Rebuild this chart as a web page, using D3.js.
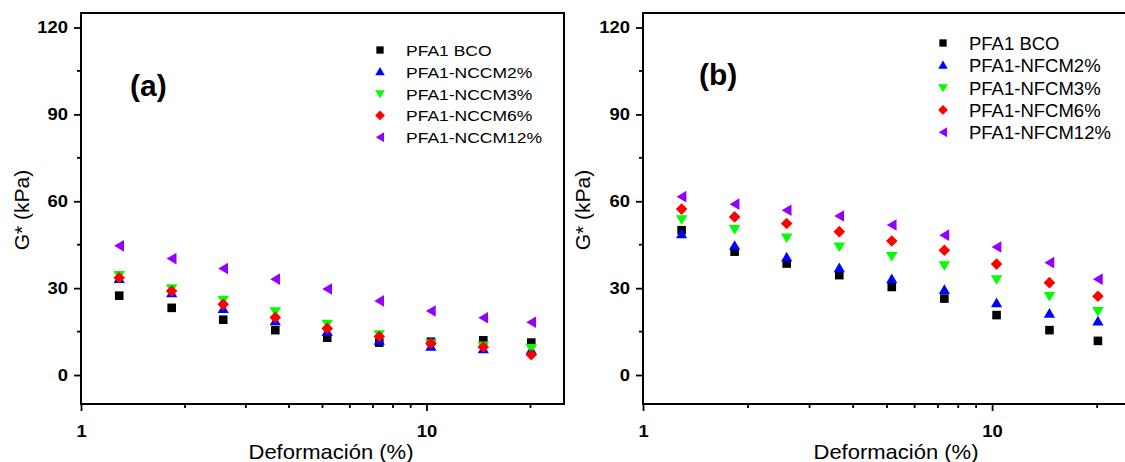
<!DOCTYPE html>
<html>
<head>
<meta charset="utf-8">
<script src="https://cdn.jsdelivr.net/npm/d3@7"></script>
<style>
  body { margin: 0; background: #fff; }
  svg { display: block; }
  text { font-family: "Liberation Sans", Arial, sans-serif; }
</style>
</head>
<body>
<svg id="chart" width="1125" height="462"></svg>
<script>
// Strain amplitude (%) of each sweep point
const strain = [1.29, 1.83, 2.58, 3.65, 5.16, 7.3, 10.3, 14.6, 20.1];

// Axis ticks
const xTicks = [1, 10];
const xMinorTicks = [2, 3, 4, 5, 6, 7, 8, 9, 20];
const yTicks = [0, 30, 60, 90, 120];
const yMinorTicks = [15, 45, 75, 105];

// Panel (a): nanocellulose crystals, G* (kPa)
const labelsA = ["PFA1 BCO", "PFA1-NCCM2%", "PFA1-NCCM3%", "PFA1-NCCM6%", "PFA1-NCCM12%"];
const bcoA   = [27.4, 23.2, 19.1, 15.5, 12.9, 11.2, 11.5, 12.0, 11.2];
const nccm2  = [33.2, 28.2, 22.8, 18.6, 14.9, 11.8,  9.8,  8.9,  8.6];
const nccm3  = [34.5, 30.0, 26.0, 22.0, 17.7, 14.1, 11.0, 10.2,  9.3];
const nccm6  = [33.6, 29.0, 24.4, 19.9, 16.1, 13.3, 11.0,  9.7,  7.0];
const nccm12 = [44.6, 40.2, 36.8, 33.1, 29.7, 25.6, 22.1, 19.8, 18.2];

// Panel (b): nanocellulose fibres, G* (kPa)
const labelsB = ["PFA1 BCO", "PFA1-NFCM2%", "PFA1-NFCM3%", "PFA1-NFCM6%", "PFA1-NFCM12%"];
const bcoB   = [50.0, 42.6, 38.5, 34.5, 30.4, 26.4, 20.7, 15.5, 11.8];
const nfcm2  = [48.6, 44.6, 40.6, 36.9, 33.1, 29.4, 24.8, 21.2, 18.5];
const nfcm3  = [53.8, 50.4, 47.5, 44.4, 41.1, 37.9, 33.1, 27.3, 22.1];
const nfcm6  = [57.3, 54.6, 52.3, 49.5, 46.3, 43.1, 38.3, 31.9, 27.2];
const nfcm12 = [61.6, 59.0, 56.9, 54.9, 51.8, 48.3, 44.2, 38.8, 33.1];

const colors = ["#000000", "#0000ff", "#00ff00", "#ff0000", "#9400ff"];
const shapes = [
  "M-4.3,-4.3H4.3V4.3H-4.3Z",        // square
  "M0,-5.6L5.6,4L-5.6,4Z",            // triangle up
  "M0,5.6L5.8,-4L-5.8,-4Z",           // triangle down
  "M0,-5.8L5.8,0L0,5.8L-5.8,0Z",      // diamond
  "M-5,0L4.8,-5.8L4.8,5.8Z"           // triangle left
];

const svg = d3.select("#chart");

function drawPanel(cfg) {
  const x = d3.scaleLog().domain([1, 25]).range([cfg.left, cfg.right]);
  const y = d3.scaleLinear().domain([-10, 125]).range([404, 13]);
  const g = svg.append("g");

  // frame
  g.append("rect")
    .attr("x", cfg.left).attr("y", 13)
    .attr("width", cfg.right - cfg.left).attr("height", 404 - 13)
    .attr("fill", "none").attr("stroke", "#000").attr("stroke-width", 2);

  // y axis
  const ya = g.append("g")
    .attr("transform", `translate(${cfg.left},0)`)
    .call(d3.axisLeft(y).tickValues(yTicks).tickSize(7).tickPadding(6).tickFormat(d3.format("d")));
  ya.select(".domain").remove();
  ya.selectAll("line").attr("stroke-width", 1.8);
  ya.selectAll("text")
    .attr("font-size", 16).attr("font-weight", "bold")
    .attr("font-family", "Liberation Sans, Arial, sans-serif")
    .attr("transform", `scale(${cfg.tickStretch},1)`)
    .attr("x", -13 / cfg.tickStretch);
  g.selectAll(".yminor").data(yMinorTicks).join("line")
    .attr("x1", cfg.left - 4).attr("x2", cfg.left)
    .attr("y1", d => y(d)).attr("y2", d => y(d))
    .attr("stroke", "#000").attr("stroke-width", 1.8);

  // x axis
  const xa = g.append("g")
    .attr("transform", "translate(0,404)")
    .call(d3.axisBottom(x).tickValues(xTicks).tickSize(7).tickPadding(15).tickFormat(d3.format("d")));
  xa.select(".domain").remove();
  xa.selectAll("line").attr("stroke-width", 1.8);
  xa.selectAll("text")
    .attr("font-size", 16).attr("font-weight", "bold")
    .attr("font-family", "Liberation Sans, Arial, sans-serif")
    .attr("transform", `scale(${cfg.tickStretch},1)`);
  g.selectAll(".xminor").data(xMinorTicks).join("line")
    .attr("x1", d => x(d)).attr("x2", d => x(d))
    .attr("y1", 404).attr("y2", 408)
    .attr("stroke", "#000").attr("stroke-width", 1.8);

  // axis titles
  g.append("text")
    .attr("transform", `translate(${cfg.titleX},459) scale(1.1,1)`)
    .attr("text-anchor", "middle").attr("font-size", 20)
    .text("Deformación (%)");
  g.append("text")
    .attr("transform", `translate(${cfg.yTitleX},210) rotate(-90)`)
    .attr("text-anchor", "middle").attr("font-size", 21)
    .text("G* (kPa)");

  // panel tag
  g.append("text")
    .attr("x", cfg.tagX).attr("y", cfg.tagY)
    .attr("font-size", 30).attr("font-weight", "bold")
    .text(cfg.tag);

  // data points
  cfg.series.forEach((vals, i) => {
    g.append("g").selectAll("path").data(vals).join("path")
      .attr("d", shapes[i])
      .attr("fill", colors[i])
      .attr("transform", (d, j) => `translate(${x(strain[j])},${y(d)})`);
  });

  // legend
  const lg = g.append("g");
  cfg.labels.forEach((lab, i) => {
    const cy = cfg.legY + i * cfg.legStep;
    lg.append("path")
      .attr("d", shapes[i]).attr("fill", colors[i])
      .attr("transform", `translate(${cfg.legX},${cy}) scale(0.85)`);
    lg.append("text")
      .attr("transform", `translate(${cfg.legX + 26},${cy + cfg.legBase}) scale(${cfg.legStretch},1)`)
      .attr("font-size", cfg.legFont)
      .text(lab);
  });
}

drawPanel({
  left: 81, right: 564, tickStretch: 1.15,
  titleX: 331, yTitleX: 29,
  tag: "(a)", tagX: 130, tagY: 95.5,
  series: [bcoA, nccm2, nccm3, nccm6, nccm12], labels: labelsA,
  legX: 380, legY: 50, legStep: 21.8, legBase: 6, legFont: 15.5, legStretch: 1.13
});

drawPanel({
  left: 643, right: 1131, tickStretch: 1.15,
  titleX: 896, yTitleX: 590,
  tag: "(b)", tagX: 699, tagY: 84.5,
  series: [bcoB, nfcm2, nfcm3, nfcm6, nfcm12], labels: labelsB,
  legX: 943, legY: 43, legStep: 22.3, legBase: 7, legFont: 18.5, legStretch: 1
});
</script>
</body>
</html>
